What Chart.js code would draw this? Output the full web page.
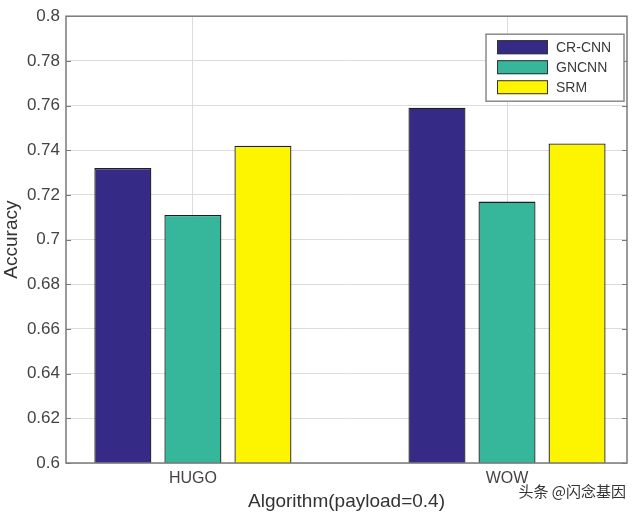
<!DOCTYPE html>
<html>
<head>
<meta charset="utf-8">
<script src="https://cdn.jsdelivr.net/npm/chart.js@4.4.0/dist/chart.umd.min.js"></script>
<style>
  html, body { margin: 0; padding: 0; background: #fff; }
  #wrap { width: 640px; height: 519px; }
</style>
</head>
<body>
<div id="wrap"><canvas id="myChart" width="640" height="519"></canvas></div>
<script>
// data
let categories = ['HUGO', 'WOW'];
let seriesNames = ['CR-CNN', 'GNCNN', 'SRM'];
let crcnnAcc = [0.732, 0.759];
let gncnnAcc = [0.711, 0.717];
let srmAcc = [0.742, 0.743];
let yMin = 0.6, yMax = 0.8, yStep = 0.02;
let xMin = 0.596, xMax = 2.382;

let colors = ['#352a86', '#36b69b', '#fdf500'];
let allSeries = [crcnnAcc, gncnnAcc, srmAcc];
let FONT = "'Liberation Sans', Arial, sans-serif";

function toPoints(arr) {
    return arr.map((v, i) => ({ x: i + 1, y: v }));
}

let datasets = seriesNames.map((name, k) => ({
    label: name,
    data: toPoints(allSeries[k]),
    backgroundColor: colors[k],
    borderColor: '#1e1e1e',
    borderWidth: 1.3,
    borderSkipped: false,
    barPercentage: 0.814,
    categoryPercentage: 0.669
}));

// frame, inward ticks, boxed legend and the watermark
const decorPlugin = {
    id: 'decor',
    afterDraw(chart) {
        const ctx = chart.ctx;
        const a = chart.chartArea;
        const ys = chart.scales.y;
        ctx.save();
        ctx.strokeStyle = '#7a7a7a';
        ctx.lineWidth = 1.5;
        ctx.strokeRect(a.left, a.top, a.right - a.left, a.bottom - a.top);
        // little tick marks pointing inward
        ctx.lineWidth = 1.2;
        for (let v = yMin; v <= yMax + 1e-9; v += yStep) {
            let py = Math.round(ys.getPixelForValue(v)) + 0.5;
            ctx.beginPath();
            ctx.moveTo(a.left, py); ctx.lineTo(a.left + 5, py);
            ctx.moveTo(a.right, py); ctx.lineTo(a.right - 5, py);
            ctx.stroke();
        }
        // legend
        let lx = a.right - 141, ly = a.top + 18, lw = 138, lh = 67;
        ctx.fillStyle = '#fff';
        ctx.fillRect(lx, ly, lw, lh);
        ctx.strokeStyle = '#8a8a8a';
        ctx.lineWidth = 1.5;
        ctx.strokeRect(lx, ly, lw, lh);
        ctx.font = '14px ' + FONT;
        ctx.textBaseline = 'middle';
        seriesNames.forEach((name, k) => {
            let cy = ly + 13 + k * 20;
            ctx.fillStyle = colors[k];
            ctx.fillRect(lx + 11, cy - 7, 51, 14);
            ctx.strokeStyle = '#333';
            ctx.lineWidth = 1;
            ctx.strokeRect(lx + 11.5, cy - 6.5, 50, 13);
            ctx.fillStyle = '#3a3a3a';
            ctx.fillText(name, lx + 70, cy + 1);
        });
        // watermark
        ctx.font = "15px 'Noto Sans CJK SC', sans-serif";
        ctx.textAlign = 'right';
        ctx.fillStyle = '#333';
        ctx.fillText('头条 @闪念基因', 626, 491);
        ctx.restore();
    }
};

var config = {
    type: 'bar',
    data: { datasets: datasets },
    plugins: [decorPlugin],
    options: {
        responsive: false,
        animation: false,
        layout: { padding: { top: 12, right: 13, bottom: 4, left: 0 } },
        plugins: {
            legend: { display: false },
            tooltip: { enabled: false }
        },
        scales: {
            x: {
                type: 'linear',
                min: xMin,
                max: xMax,
                offset: false,
                afterBuildTicks: (scale) => {
                    scale.ticks = categories.map((c, i) => ({ value: i + 1 }));
                },
                afterFit: (scale) => { scale.height = 52; },
                ticks: {
                    callback: (v) => categories[Math.round(v) - 1],
                    color: '#444',
                    font: { size: 16, family: FONT },
                    padding: 6,
                    maxRotation: 0
                },
                grid: { color: '#dcdcdc', lineWidth: 1, tickLength: 0, offset: false },
                border: { display: false },
                title: {
                    display: true,
                    text: 'Algorithm(payload=0.4)',
                    color: '#333',
                    font: { size: 19, family: FONT },
                    padding: { top: 0, bottom: 2 }
                }
            },
            y: {
                min: yMin,
                max: yMax,
                afterFit: (scale) => { scale.width = 66; },
                ticks: {
                    stepSize: yStep,
                    callback: (v) => String(parseFloat(v.toFixed(2))),
                    color: '#444',
                    font: { size: 17, family: FONT },
                    padding: 6
                },
                grid: { color: '#dcdcdc', lineWidth: 1, tickLength: 0 },
                border: { display: false },
                title: {
                    display: true,
                    text: 'Accuracy',
                    color: '#333',
                    font: { size: 19, family: FONT },
                    padding: { top: 0, bottom: 0 }
                }
            }
        }
    }
};

let myChart = new Chart(document.getElementById('myChart'), config);
</script>
</body>
</html>
